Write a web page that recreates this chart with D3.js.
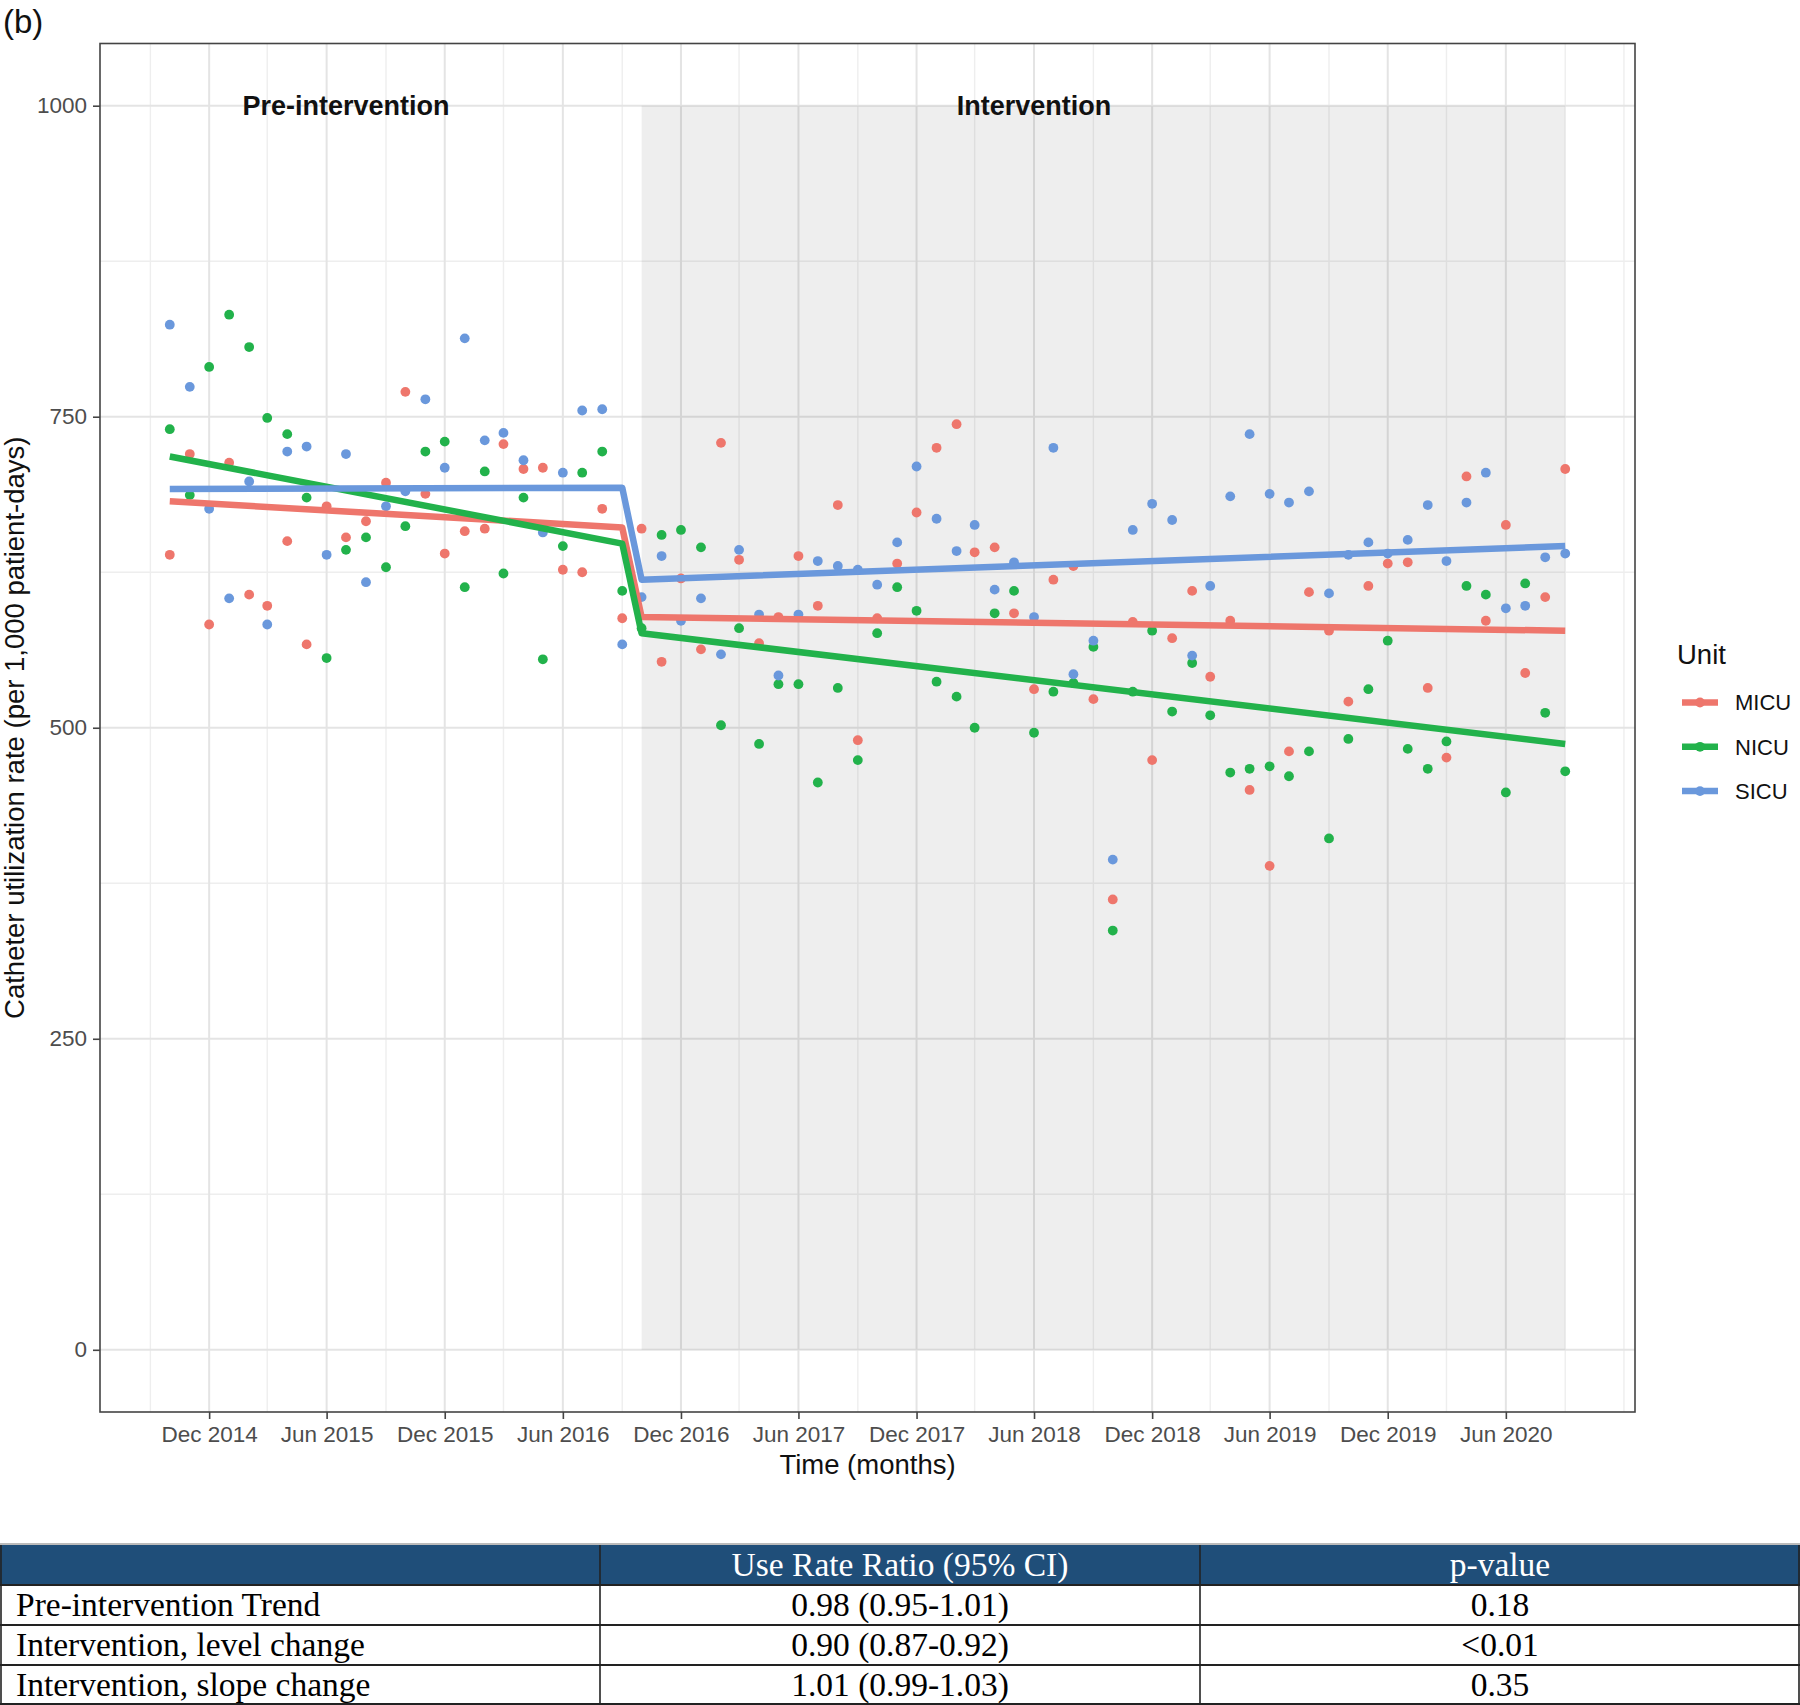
<!DOCTYPE html>
<html>
<head>
<meta charset="utf-8">
<script src="https://cdn.jsdelivr.net/npm/d3@7"></script>
<style>
  html, body { margin: 0; padding: 0; background: #fff; }
  svg { display: block; }
</style>
</head>
<body>
<svg id="chart" width="1800" height="1705"></svg>
<script>
// ---------------- DATA ----------------
const months = [
  "2014-10","2014-11","2014-12",
  "2015-01","2015-02","2015-03","2015-04","2015-05","2015-06","2015-07","2015-08","2015-09","2015-10","2015-11","2015-12",
  "2016-01","2016-02","2016-03","2016-04","2016-05","2016-06","2016-07","2016-08","2016-09","2016-10","2016-11","2016-12",
  "2017-01","2017-02","2017-03","2017-04","2017-05","2017-06","2017-07","2017-08","2017-09","2017-10","2017-11","2017-12",
  "2018-01","2018-02","2018-03","2018-04","2018-05","2018-06","2018-07","2018-08","2018-09","2018-10","2018-11","2018-12",
  "2019-01","2019-02","2019-03","2019-04","2019-05","2019-06","2019-07","2019-08","2019-09","2019-10","2019-11","2019-12",
  "2020-01","2020-02","2020-03","2020-04","2020-05","2020-06","2020-07","2020-08","2020-09"
];

const units = ["MICU", "NICU", "SICU"];

const micu = [639,720,583,713,607,598,650,567,678,653,666,697,770,688,640,658,660,728,708,709,627,625,676,588,
              660,553,620,563,729,635,568,589,638,598,679,490,588,632,673,725,744,641,645,592,531,619,630,523,
              362,585,474,572,610,541,586,450,389,481,609,578,521,614,632,633,532,476,702,586,663,544,605,708];
const nicu = [740,687,790,832,806,749,736,685,556,643,653,629,662,722,730,613,706,624,685,555,646,705,722,610,
              580,655,659,645,502,580,487,535,535,456,532,474,576,613,594,537,525,500,592,610,496,529,536,565,
              337,529,578,513,552,510,464,467,469,461,481,411,491,531,570,483,467,489,614,607,448,616,512,465];
const sicu = [824,774,676,604,698,583,722,726,639,720,617,678,690,764,709,813,731,737,715,657,705,755,756,567,
              605,638,586,604,559,643,591,542,591,634,630,627,615,649,710,668,642,663,611,633,589,725,543,570,
              394,659,680,667,558,614,686,736,688,681,690,608,639,649,640,651,679,634,681,705,596,598,637,640];

// segmented regression fits: pre-start, pre-end, post-start, post-end
const fitMonths = ["2014-10", "2016-09", "2016-10", "2020-09"];
const micuFit = [682, 661, 589, 578];
const nicuFit = [718, 648, 576, 487];
const sicuFit = [692, 693, 619, 646];

const interventionStart = "2016-10";
const interventionEnd = "2020-09";
const shadeRange = [0, 1000];

const xTickMonths = ["2014-12","2015-06","2015-12","2016-06","2016-12","2017-06","2017-12","2018-06","2018-12","2019-06","2019-12","2020-06"];
const xMinorMonths = ["2014-09","2015-03","2015-09","2016-03","2016-09","2017-03","2017-09","2018-03","2018-09","2019-03","2019-09","2020-03","2020-09","2020-12"];
const yTicks = [0, 250, 500, 750, 1000];
const yMinorTicks = [125, 375, 625, 875];

const phaseLabels = ["Pre-intervention", "Intervention"];
const phaseLabelMonths = ["2015-07", "2018-06"];
const phaseLabelValue = 1000;

const tableHeader = ["", "Use Rate Ratio (95% CI)", "p-value"];
const tableRowLabels = ["Pre-intervention Trend", "Intervention, level change", "Intervention, slope change"];
const tableRatios = ["0.98 (0.95-1.01)", "0.90 (0.87-0.92)", "1.01 (0.99-1.03)"];
const tablePValues = ["0.18", "<0.01", "0.35"];

// ---------------- RENDER ----------------
const parse = d3.timeParse("%Y-%m");
const colors = { MICU: "#EE766C", NICU: "#22B24B", SICU: "#6A98DC" };
const series = [
  { unit: "MICU", values: micu, fit: micuFit },
  { unit: "NICU", values: nicu, fit: nicuFit },
  { unit: "SICU", values: sicu, fit: sicuFit }
];

const svg = d3.select("#chart");
const P = { left: 100, right: 1635, top: 43.5, bottom: 1412 };

const dates = months.map(parse);
const span = dates[dates.length - 1] - dates[0];
const x = d3.scaleTime()
  .domain([new Date(+dates[0] - 0.05 * span), new Date(+dates[dates.length - 1] + 0.05 * span)])
  .range([P.left, P.right]);
const y = d3.scaleLinear().domain([-50, 1050]).range([P.bottom, P.top]);

const FONT = "'Liberation Sans', Arial, Helvetica, sans-serif";
const SERIF = "'Liberation Serif', 'Times New Roman', Times, serif";

// "(b)" label
svg.append("text").attr("x", 3).attr("y", 33)
  .attr("font-family", FONT).attr("font-size", 33).attr("fill", "#111")
  .text("(b)");

const plot = svg.append("g");
plot.append("rect").attr("x", P.left).attr("y", P.top)
  .attr("width", P.right - P.left).attr("height", P.bottom - P.top).attr("fill", "#fff");

// grid
const grid = plot.append("g");
grid.selectAll(".xminor").data(xMinorMonths.map(parse)).join("line")
  .attr("x1", d => x(d)).attr("x2", d => x(d)).attr("y1", P.top).attr("y2", P.bottom)
  .attr("stroke", "#EEEEEE").attr("stroke-width", 1.4);
grid.selectAll(".yminor").data(yMinorTicks).join("line")
  .attr("x1", P.left).attr("x2", P.right).attr("y1", d => y(d)).attr("y2", d => y(d))
  .attr("stroke", "#EEEEEE").attr("stroke-width", 1.4);
grid.selectAll(".xmajor").data(xTickMonths.map(parse)).join("line")
  .attr("x1", d => x(d)).attr("x2", d => x(d)).attr("y1", P.top).attr("y2", P.bottom)
  .attr("stroke", "#E4E4E4").attr("stroke-width", 2);
grid.selectAll(".ymajor").data(yTicks).join("line")
  .attr("x1", P.left).attr("x2", P.right).attr("y1", d => y(d)).attr("y2", d => y(d))
  .attr("stroke", "#E4E4E4").attr("stroke-width", 2);

// intervention shading
plot.append("rect")
  .attr("x", x(parse(interventionStart))).attr("y", y(shadeRange[1]))
  .attr("width", x(parse(interventionEnd)) - x(parse(interventionStart)))
  .attr("height", y(shadeRange[0]) - y(shadeRange[1]))
  .attr("fill", "#000").attr("fill-opacity", 0.065);

// phase labels
plot.selectAll(".phase").data(phaseLabels).join("text")
  .attr("x", (d, i) => x(parse(phaseLabelMonths[i])))
  .attr("y", y(phaseLabelValue)).attr("dy", "0.36em")
  .attr("text-anchor", "middle")
  .attr("font-family", FONT).attr("font-weight", "bold").attr("font-size", 27)
  .attr("fill", "#111").text(d => d);

// points
series.forEach(s => {
  plot.append("g").selectAll("circle").data(s.values).join("circle")
    .attr("cx", (d, i) => x(dates[i])).attr("cy", d => y(d)).attr("r", 4.9)
    .attr("fill", colors[s.unit]);
});

// fitted lines
const line = d3.line().x(d => x(d[0])).y(d => y(d[1]));
series.forEach(s => {
  plot.append("path")
    .datum(fitMonths.map((m, i) => [parse(m), s.fit[i]]))
    .attr("d", line).attr("fill", "none")
    .attr("stroke", colors[s.unit]).attr("stroke-width", 6.5)
    .attr("stroke-linejoin", "round");
});

// panel border
plot.append("rect").attr("x", P.left).attr("y", P.top)
  .attr("width", P.right - P.left).attr("height", P.bottom - P.top)
  .attr("fill", "none").attr("stroke", "#444").attr("stroke-width", 1.6);

// axes
const xAxis = d3.axisBottom(x).tickValues(xTickMonths.map(parse))
  .tickFormat(d3.timeFormat("%b %Y")).tickSize(7).tickPadding(4);
const gx = svg.append("g").attr("transform", `translate(0,${P.bottom})`).call(xAxis);
const yAxis = d3.axisLeft(y).tickValues(yTicks).tickFormat(d3.format("d")).tickSize(7).tickPadding(6);
const gy = svg.append("g").attr("transform", `translate(${P.left},0)`).call(yAxis);
[gx, gy].forEach(g => {
  g.select(".domain").remove();
  g.selectAll(".tick line").attr("stroke", "#444").attr("stroke-width", 1.6);
  g.selectAll(".tick text").attr("font-family", FONT).attr("font-size", 22.5).attr("fill", "#4D4D4D");
});
gx.selectAll(".tick text").attr("dy", "0.85em");

// axis titles
svg.append("text").attr("x", (P.left + P.right) / 2).attr("y", 1474)
  .attr("text-anchor", "middle").attr("font-family", FONT).attr("font-size", 27.5)
  .attr("fill", "#111").text("Time (months)");
svg.append("text")
  .attr("transform", `translate(24,${(P.top + P.bottom) / 2}) rotate(-90)`)
  .attr("text-anchor", "middle").attr("font-family", FONT).attr("font-size", 27.5)
  .attr("fill", "#111").text("Catheter utilization rate (per 1,000 patient-days)");

// legend
const lg = svg.append("g");
lg.append("text").attr("x", 1677).attr("y", 664)
  .attr("font-family", FONT).attr("font-size", 27.5).attr("fill", "#111").text("Unit");
units.forEach((u, i) => {
  const cy = 702.5 + i * 44.3;
  lg.append("line").attr("x1", 1682).attr("x2", 1718).attr("y1", cy).attr("y2", cy)
    .attr("stroke", colors[u]).attr("stroke-width", 6.5);
  lg.append("circle").attr("cx", 1700).attr("cy", cy).attr("r", 4.9).attr("fill", colors[u]);
  lg.append("text").attr("x", 1735).attr("y", cy).attr("dy", "0.36em")
    .attr("font-family", FONT).attr("font-size", 22).attr("fill", "#111").text(u);
});

// ---------------- TABLE ----------------
const T = { top: 1545, headerH: 40, rowH: 40, cols: [0, 600, 1200, 1800] };
const tb = svg.append("g");
tb.append("line").attr("x1", 0).attr("x2", 1800).attr("y1", T.top - 1).attr("y2", T.top - 1)
  .attr("stroke", "#bbb").attr("stroke-width", 2);
tb.append("rect").attr("x", 0).attr("y", T.top).attr("width", 1800).attr("height", T.headerH)
  .attr("fill", "#1F4E79");
tableHeader.forEach((h, i) => {
  tb.append("text").attr("x", (T.cols[i] + T.cols[i + 1]) / 2).attr("y", T.top + T.headerH / 2)
    .attr("dy", "0.34em").attr("text-anchor", "middle")
    .attr("font-family", SERIF).attr("font-size", 33.5).attr("fill", "#fff").text(h);
});
const rowsData = tableRowLabels.map((l, i) => [l, tableRatios[i], tablePValues[i]]);
rowsData.forEach((r, ri) => {
  const ry = T.top + T.headerH + ri * T.rowH;
  r.forEach((c, ci) => {
    const t = tb.append("text").attr("y", ry + T.rowH / 2).attr("dy", "0.34em")
      .attr("font-family", SERIF).attr("font-size", 33.5).attr("fill", "#000").text(c);
    if (ci === 0) t.attr("x", 16).attr("text-anchor", "start");
    else t.attr("x", (T.cols[ci] + T.cols[ci + 1]) / 2).attr("text-anchor", "middle");
  });
});
// table lines
const tBottom = T.top + T.headerH + rowsData.length * T.rowH;
for (let i = 0; i <= rowsData.length; i++) {
  const ly = T.top + T.headerH + i * T.rowH;
  tb.append("line").attr("x1", 0).attr("x2", 1800)
    .attr("y1", Math.min(ly, 1704)).attr("y2", Math.min(ly, 1704))
    .attr("stroke", "#222").attr("stroke-width", 2);
}
T.cols.forEach(cx => {
  const xx = Math.max(1, Math.min(cx, 1799));
  tb.append("line").attr("x1", xx).attr("x2", xx).attr("y1", T.top).attr("y2", tBottom)
    .attr("stroke", "#222").attr("stroke-width", 1.6);
});
</script>
</body>
</html>
